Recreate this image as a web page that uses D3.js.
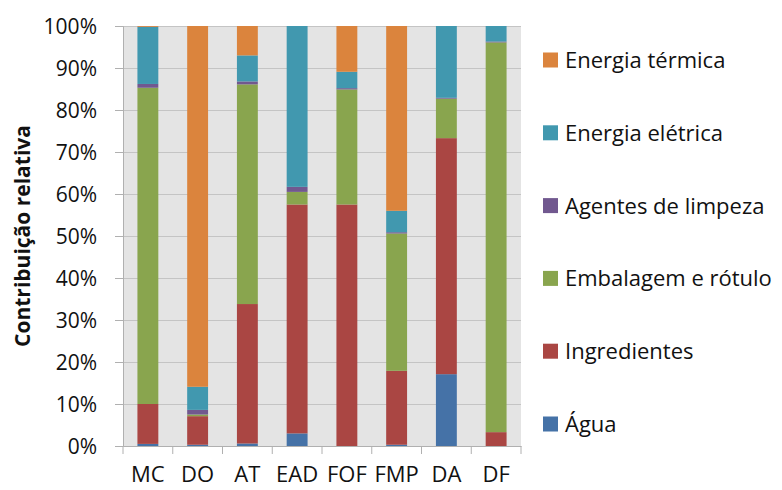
<!DOCTYPE html>
<html>
<head>
<meta charset="utf-8">
<script src="https://cdn.jsdelivr.net/npm/d3@7"></script>
<style>
  body { margin: 0; background: #fff; }
  text { font-family: "Open Sans", "Noto Sans", sans-serif; fill: #111; }
</style>
</head>
<body>
<div id="chart"></div>
<script>
// categories (x axis)
var categories = ["MC", "DO", "AT", "EAD", "FOF", "FMP", "DA", "DF"]

// series, bottom to top (% contribution)
var agua          = [0.5, 0.3, 0.6, 3.0, 0.0, 0.3, 17.1, 0.0]
var ingredientes  = [9.5, 6.8, 33.2, 54.5, 57.5, 17.6, 56.2, 3.3]
var embalagem     = [75.3, 0.4, 52.3, 3.0, 27.4, 32.7, 9.4, 92.8]
var agentes       = [0.9, 1.1, 0.7, 1.2, 0.3, 0.3, 0.2, 0.2]
var eletrica      = [13.6, 5.5, 6.2, 38.3, 3.9, 5.1, 17.1, 3.7]
var termica       = [0.2, 85.9, 7.0, 0.0, 10.9, 44.0, 0.0, 0.0]

var seriesNames = ["Água", "Ingredientes", "Embalagem e rótulo", "Agentes de limpeza", "Energia elétrica", "Energia térmica"]
var seriesValues = [agua, ingredientes, embalagem, agentes, eletrica, termica]
var seriesColors = ["#4572a7", "#aa4643", "#89a54e", "#71588f", "#4198af", "#db843d"]

var yTicks = [0, 10, 20, 30, 40, 50, 60, 70, 80, 90, 100]

// build rows for the stack
var rows = categories.map(function (c, i) {
  var r = { cat: c }
  seriesNames.forEach(function (s, j) { r[s] = seriesValues[j][i] })
  return r
})

var W = 782, H = 490
var margin = { top: 26, right: 261, bottom: 44, left: 123 }
var width = W - margin.left - margin.right
var height = H - margin.top - margin.bottom

var svg = d3.select("#chart").append("svg")
  .attr("width", W)
  .attr("height", H)

var g = svg.append("g")
  .attr("transform", "translate(" + margin.left + "," + margin.top + ")")

var x = d3.scaleBand().domain(categories).range([0, width]).paddingInner(0).paddingOuter(0)
var y = d3.scaleLinear().domain([0, 100]).range([height, 0])
var color = d3.scaleOrdinal().domain(seriesNames).range(seriesColors)

// plot background
g.append("rect")
  .attr("width", width)
  .attr("height", height)
  .attr("fill", "#e4e4e4")

// gridlines
g.append("g")
  .attr("class", "grid")
  .call(d3.axisLeft(y).tickValues(yTicks).tickSize(-width).tickFormat(""))
  .call(function (s) {
    s.select(".domain").remove()
    s.selectAll("line").attr("stroke", "#c4c4c4").attr("stroke-width", 1.2)
  })

// stacked bars
var stack = d3.stack().keys(seriesNames)
var layers = stack(rows)
var barW = x.bandwidth() * 0.42

g.append("g").selectAll("g")
  .data(layers)
  .enter().append("g")
  .attr("fill", function (d) { return color(d.key) })
  .selectAll("rect")
  .data(function (d) { return d })
  .enter().append("rect")
  .attr("x", function (d) { return x(d.data.cat) + (x.bandwidth() - barW) / 2 })
  .attr("y", function (d) { return y(d[1]) })
  .attr("width", barW)
  .attr("height", function (d) { return y(d[0]) - y(d[1]) })

// y axis
var yAxis = g.append("g")
  .call(d3.axisLeft(y).tickValues(yTicks).tickSize(8).tickPadding(18)
    .tickFormat(function (d) { return d + "%" }))
yAxis.select(".domain").attr("stroke", "#b0b0b0")
yAxis.selectAll(".tick line").attr("stroke", "#b0b0b0")
yAxis.selectAll("text").style("font-size", "21px").attr("dy", "0.36em")

// x axis: ticks sit on band boundaries
var xAxis = g.append("g")
  .attr("transform", "translate(0," + height + ")")
  .call(d3.axisBottom(x).tickSize(0).tickPadding(20))
xAxis.select(".domain").attr("stroke", "#b0b0b0")
xAxis.selectAll("text").style("font-size", "22px")
var bounds = categories.map(function (c) { return x(c) }).concat([width])
xAxis.selectAll(".bound").data(bounds).enter().append("line")
  .attr("class", "bound")
  .attr("x1", function (d) { return d }).attr("x2", function (d) { return d })
  .attr("y1", 0).attr("y2", 8)
  .attr("stroke", "#b0b0b0")

// y axis title
svg.append("text")
  .attr("transform", "translate(30," + (margin.top + height / 2) + ") rotate(-90)")
  .attr("text-anchor", "middle")
  .style("font-size", "21px")
  .style("font-weight", "bold")
  .text("Contribuição relativa")

// legend, top to bottom reversed
var legendItems = seriesNames.slice().reverse()
var legend = svg.selectAll(".legend")
  .data(legendItems)
  .enter().append("g")
  .attr("class", "legend")
  .attr("transform", function (d, i) { return "translate(543," + (60 + i * 72.8) + ")" })

legend.append("rect")
  .attr("y", -7.5)
  .attr("width", 15)
  .attr("height", 15)
  .attr("fill", function (d) { return color(d) })

legend.append("text")
  .attr("x", 22)
  .attr("dy", "0.36em")
  .style("font-size", "22px")
  .text(function (d) { return d })
</script>
</body>
</html>
